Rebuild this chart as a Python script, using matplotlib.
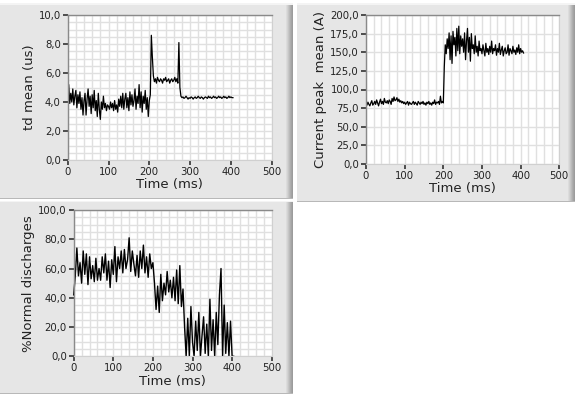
import numpy as np
import matplotlib
matplotlib.use("Agg")
import matplotlib.pyplot as plt
from matplotlib.patches import Rectangle
from matplotlib.ticker import MultipleLocator, FuncFormatter

# ---------------- data ----------------
dt_td = 2.5  # ms between samples (panels 1 and 2)
td_mean = [
    4.3, 5.2, 3.9, 4.6, 4.0, 4.9, 3.8, 4.4,
    4.8, 3.6, 4.5, 3.9, 4.7, 3.5, 4.3, 3.1,
    4.1, 4.6, 3.1, 4.2, 4.9, 3.7, 4.4, 3.2,
    4.5, 3.6, 4.8, 3.4, 4.1, 3.0, 4.6, 3.5,
    2.8, 4.0, 3.5, 4.4, 3.6, 3.9, 3.4, 3.8,
    3.7, 3.5, 4.0, 3.6, 3.9, 3.4, 4.1, 3.5,
    3.8, 3.3, 4.2, 3.7, 4.4, 3.6, 4.6, 3.5,
    4.2, 4.6, 3.6, 4.3, 3.4, 4.7, 3.8, 4.5,
    3.7, 4.1, 4.9, 3.5, 4.4, 3.9, 5.2, 3.6,
    4.7, 3.3, 4.4, 3.9, 4.8, 3.5, 4.3, 3.0,
    4.1, 4.5, 8.6, 7.1, 5.8, 5.4, 5.6, 5.3,
    5.7, 5.5, 5.4, 5.6, 5.5, 5.3, 5.6, 5.5,
    5.7, 5.4, 5.5, 5.6, 5.3, 5.5, 5.6, 5.4,
    5.5, 5.7, 5.4, 5.6, 5.3, 8.1, 5.0, 4.4,
    4.3, 4.35, 4.25, 4.3, 4.4, 4.3, 4.2, 4.3,
    4.25, 4.35, 4.3, 4.2, 4.3, 4.35, 4.25, 4.3,
    4.4, 4.3, 4.25, 4.35, 4.3, 4.2, 4.3, 4.35,
    4.3, 4.25, 4.4, 4.3, 4.35, 4.25, 4.3, 4.4,
    4.3, 4.35, 4.25, 4.3, 4.4, 4.3, 4.35, 4.25,
    4.3, 4.4, 4.3, 4.35, 4.25, 4.3, 4.4, 4.3,
    4.35, 4.3, 4.3,
]

current_peak = [
    82, 79, 83, 80, 78, 82, 85, 79,
    81, 84, 80, 86, 82, 78, 83, 87,
    81, 84, 80, 88, 83, 82, 85, 81,
    86, 84, 80, 88, 84, 90, 85, 86,
    89, 84, 87, 83, 85, 82, 84, 81,
    83, 80, 82, 84, 79, 83, 81, 80,
    82, 84, 80, 83, 81, 79, 84, 82,
    80, 83, 81, 84, 80, 82, 79, 83,
    81, 84, 80, 82, 79, 83, 81, 86,
    80, 83, 82, 84, 80, 91, 82, 84,
    82, 130, 160, 148, 168, 155, 176, 140,
    172, 135, 178, 160, 170, 145, 182, 152,
    185, 148, 172, 158, 168, 150, 176, 140,
    165, 182, 150, 170, 138, 175, 155, 160,
    148, 172, 150, 158, 145, 165, 152, 155,
    148, 160, 152, 145, 162, 150, 155, 147,
    158, 150, 165, 148, 155, 152, 160, 146,
    155, 150, 162, 147, 153, 158, 145, 152,
    156, 148, 150, 160, 146, 155, 152, 148,
    158, 150, 153, 147, 156, 150, 160, 148,
    155, 150, 152, 149,
]

dt_norm = 4.0  # ms between samples (panel 3)
normal_pct = [
    42, 55, 74, 55, 64, 50, 72, 56, 70, 49,
    68, 53, 62, 51, 67, 52, 60, 52, 68, 57,
    70, 52, 65, 47, 66, 56, 75, 51, 68, 60,
    72, 57, 73, 60, 66, 81, 58, 72, 63, 55,
    69, 54, 72, 60, 76, 57, 68, 54, 70, 60,
    64, 50, 32, 48, 30, 56, 38, 50, 42, 58,
    44, 52, 40, 54, 38, 59, 36, 62, 34, 46,
    20, 0, 26, 0, 34, 10, 0, 24, 4, 30,
    0, 14, 27, 2, 22, 0, 39, 4, 25, 0,
    30, 8, 42, 60, 0, 35, 2, 23, 0, 24,
    0, 0,
]

x_ticks = [0, 100, 200, 300, 400, 500]

# ---------------- figure ----------------
W, H = 575, 394
fig = plt.figure(figsize=(W / 100, H / 100), dpi=100)
fig.patch.set_facecolor("white")


def panel(x0, y0, x1, y1):
    """Draw a LabVIEW-like gray panel in pixel coords (top-left origin)."""
    fx, fw = x0 / W, (x1 - x0) / W
    fy, fh = 1 - y1 / H, (y1 - y0) / H
    fig.patches.append(Rectangle((fx, fy), fw, fh, transform=fig.transFigure,
                                 facecolor="#e6e6e6", edgecolor="none", zorder=-10))
    shades = ["#dcdcdc", "#d2d2d2", "#c6c6c6", "#bababa", "#aeaeae", "#a4a4a4", "#9c9c9c"]
    for k, c in enumerate(shades):
        fig.patches.append(Rectangle(((x1 - len(shades) + k) / W, fy), 1 / W, fh,
                                     transform=fig.transFigure, facecolor=c,
                                     edgecolor="none", zorder=-9))
    fig.patches.append(Rectangle((fx, fy + fh - 1.5 / H), fw, 1.5 / H, transform=fig.transFigure,
                                 facecolor="#f4f4f4", edgecolor="none", zorder=-9))
    fig.patches.append(Rectangle((fx, fy), fw, 1.2 / H, transform=fig.transFigure,
                                 facecolor="#b8b8b8", edgecolor="none", zorder=-9))


panel(0, 3, 293, 199)
panel(297, 3, 575, 202)
panel(0, 201, 293, 394)


def make_ax(l, r, t, b):
    return fig.add_axes([l / W, 1 - b / H, (r - l) / W, (b - t) / H])


def comma_fmt(v, pos):
    return f"{v:.1f}".replace(".", ",")


def style(ax, ymax, ymajor, yminor, ylabel):
    ax.set_facecolor("white")
    ax.set_xlim(0, 500)
    ax.set_ylim(0, ymax)
    ax.set_xticks(x_ticks)
    ax.yaxis.set_major_locator(MultipleLocator(ymajor))
    ax.yaxis.set_major_formatter(FuncFormatter(comma_fmt))
    ax.xaxis.set_minor_locator(MultipleLocator(20))
    ax.yaxis.set_minor_locator(MultipleLocator(yminor))
    ax.grid(True, which="both", color="#e0e0e0", lw=1.0)
    ax.set_axisbelow(True)
    ax.tick_params(which="minor", length=0)
    ax.tick_params(which="major", length=3.5, width=1.2, color="#333333",
                   labelsize=7.3, pad=1.5, labelcolor="#222222")
    for s in ("top", "left"):
        ax.spines[s].set_color("#8a8a8a")
        ax.spines[s].set_linewidth(1.0)
    for s in ("right", "bottom"):
        ax.spines[s].set_color("#d0d0d0")
        ax.spines[s].set_linewidth(0.8)
    ax.set_xlabel("Time (ms)", fontsize=9.5, labelpad=1, color="#222222")
    ax.set_ylabel(ylabel, fontsize=9.5, labelpad=2, color="#222222")


t_td = np.arange(len(td_mean)) * dt_td
t_cp = np.arange(len(current_peak)) * dt_td
t_nd = np.arange(len(normal_pct)) * dt_norm

ax1 = make_ax(67.7, 271.7, 15, 160)
ax1.plot(t_td, td_mean, color="black", lw=0.9)
style(ax1, 10, 2, 0.5, "td mean (us)")

ax2 = make_ax(366, 559.3, 15, 164)
ax2.plot(t_cp, current_peak, color="black", lw=0.9)
style(ax2, 200, 25, 25, "Current peak  mean (A)")

ax3 = make_ax(73.7, 271.7, 210, 356.3)
ax3.plot(t_nd, normal_pct, color="black", lw=1.0, clip_on=False)
style(ax3, 100, 20, 5, "%Normal discharges")

fig.savefig("out.png", dpi=100, facecolor="white")
